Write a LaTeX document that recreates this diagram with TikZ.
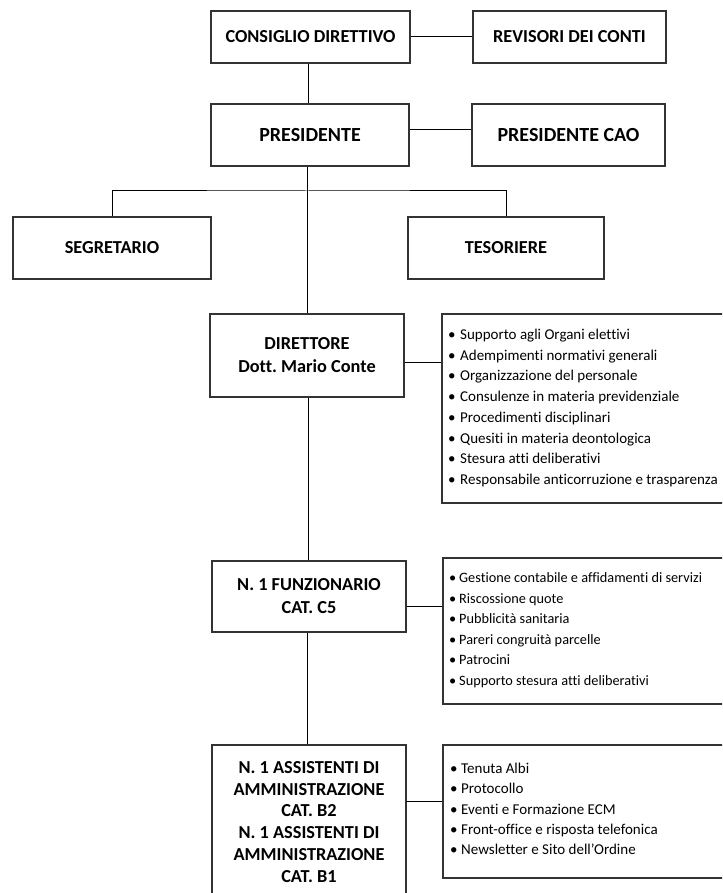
\documentclass[tikz,border=0pt]{standalone}
\usepackage{fontspec}
\setmainfont{Carlito}[Ligatures={NoCommon}]
\frenchspacing
\begin{document}
\begin{tikzpicture}[x=1pt,y=-1pt,
  box/.style={draw=black!80, line width=1.2pt, fill=white, inner sep=0pt, align=center,
    font=\fontsize{18.3}{23}\selectfont\bfseries},
  bigbox/.style={box, font=\fontsize{20}{24}\selectfont\bfseries},
  listbox/.style={draw=black!80, line width=1.2pt, inner sep=0pt},
  item/.style={anchor=base west, inner sep=0pt, font=\fontsize{15}{18}\selectfont},
  itemsm/.style={item, font=\fontsize{14.3}{17}\selectfont},
  conn/.style={draw=black, line width=1pt}]
\useasboundingbox (0,0) rectangle (722,893);
\clip (0,0) rectangle (722,893);
\newcommand{\mkbox}[7]{\node[#7, minimum width={#4-#2}, minimum height={#5-#3}] (#1) at ({(#2+#4)/2},{(#3+#5)/2}) {#6};}
\newcommand{\mklist}[5]{\node[listbox, minimum width={#4-#2}, minimum height={#5-#3}] (#1) at ({(#2+#4)/2},{(#3+#5)/2}) {};}
\coordinate (j) at (307,191);
\mkbox{cd}{211}{11}{410}{63}{CONSIGLIO DIRETTIVO}{box}
\mkbox{rev}{473}{11}{666}{63}{REVISORI DEI CONTI}{box}
\mkbox{pres}{211}{104}{409}{166}{PRESIDENTE}{bigbox}
\mkbox{cao}{472}{104}{665}{166}{PRESIDENTE CAO}{bigbox}
\mkbox{seg}{13}{217}{211}{279}{SEGRETARIO}{box}
\mkbox{tes}{408}{217}{604}{279}{TESORIERE}{box}
\mkbox{dir}{210}{314}{404}{397}{DIRETTORE\\Dott. Mario Conte}{box}
\mkbox{fun}{212}{561}{406}{632}{N. 1 FUNZIONARIO\\CAT. C5}{box}
\node[box, minimum width=194, minimum height=160] (ass) at (309,825) {};
\node[inner sep=0pt, align=center, font=\fontsize{18.3}{21.9}\selectfont\bfseries] (asst) at (309,822)
  {N. 1 ASSISTENTI DI\\AMMINISTRAZIONE\\CAT. B2\\N. 1 ASSISTENTI DI\\AMMINISTRAZIONE\\CAT. B1};
\mklist{dirl}{442}{314}{726}{503}
\mklist{funl}{443}{558}{726}{704}
\mklist{assl}{443}{745}{726}{878}
% connectors
\draw[conn] (cd.east) -- (rev.west);
\draw[conn] ([yshift=5pt]pres.east) -- ([yshift=5pt]pres.east -| cao.west);
\draw[conn] (cd.south -| 308,0) -- (pres.north -| 308,0);
\draw[conn] (pres.south -| 307,0) -- (dir.north -| 307,0);
\draw[conn] (seg.north) |- (j) -| (tes.north);
\draw[conn] ([yshift=-7pt]dir.east) -- ([yshift=-7pt]dir.east -| dirl.west);
\draw[conn] (dir.south -| 308,0) -- (fun.north -| 308,0);
\draw[conn] ([yshift=-9.5pt]fun.east) -- ([yshift=-9.5pt]fun.east -| funl.west);
\draw[conn] (fun.south -| 307,0) -- (ass.north -| 307,0);
\coordinate (ac) at (406,801);
\draw[conn] (ac) -- (ac -| assl.west);
% lists
\foreach \t [count=\i from 0] in {Supporto agli Organi elettivi, Adempimenti normativi generali, Organizzazione del personale, Consulenze in materia previdenziale, Procedimenti disciplinari, Quesiti in materia deontologica, Stesura atti deliberativi, Responsabile anticorruzione e trasparenza}
  \node[item] (d\i) at (448,{339.5+20.7*\i}) {\makebox[12pt][l]{\textbullet}\t};
\foreach \t [count=\i from 0] in {Gestione contabile e affidamenti di servizi, Riscossione quote, Pubblicità sanitaria, Pareri congruità parcelle, Patrocini, Supporto stesura atti deliberativi}
  \node[itemsm] (f\i) at (449,{582.5+20.6*\i}) {\makebox[10pt][l]{\textbullet}\t};
\foreach \t [count=\i from 0] in {Tenuta Albi, Protocollo, Eventi e Formazione ECM, Front-office e risposta telefonica, Newsletter e Sito dell’Ordine}
  \node[item] (a\i) at (450,{773.5+20.3*\i}) {\makebox[11pt][l]{\textbullet}\t};
\end{tikzpicture}
\end{document}
